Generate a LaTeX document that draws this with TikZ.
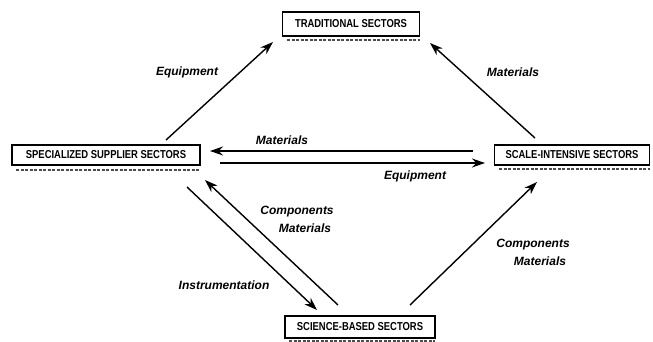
\documentclass[tikz,border=0pt]{standalone}
\usepackage{fontspec}
\setmainfont{Liberation Sans}
\usetikzlibrary{arrows.meta,calc}
\tikzset{
  sector/.style={draw=black, line width=1.8pt, fill=white, inner sep=0pt,
    font=\fontsize{11.5}{13}\selectfont\bfseries},
  flow/.style={line width=1.4pt, -{Stealth[length=13pt,width=9pt]}},
  lab/.style={font=\fontsize{12}{14}\selectfont\bfseries\itshape, inner sep=0pt},
  shade/.style={black!70, line width=2.5pt, dash pattern=on 3pt off 1.5pt}
}
\newcommand{\narrow}[1]{\scalebox{0.82}[1]{#1}}
\begin{document}
\begin{tikzpicture}[x=1pt,y=-1pt]
\useasboundingbox (0,0) rectangle (653,342);
% shadows
\draw[shade] (287,40) -- (420,40);
\draw[shade] (16,170) -- (200,170);
\draw[shade] (499,169) -- (650,169);
\draw[shade] (289,341) -- (435,341);
% boxes
\node[sector, minimum width=137pt, minimum height=24pt] (trad) at (351,24) {\narrow{TRADITIONAL SECTORS}};
\node[sector, minimum width=188pt, minimum height=20pt] (spec) at (106,155) {\narrow{SPECIALIZED SUPPLIER SECTORS}};
\node[sector, minimum width=155pt, minimum height=20pt] (scale) at (572,155) {\narrow{SCALE-INTENSIVE SECTORS}};
\node[sector, minimum width=150pt, minimum height=22pt] (sci) at (360,327) {\narrow{SCIENCE-BASED SECTORS}};
% connector end points
\coordinate (e1s) at (166,140); \coordinate (e1t) at (273,42);
\coordinate (m1s) at (535,138); \coordinate (m1t) at (430,43);
\coordinate (m2s) at (473,151); \coordinate (m2t) at (210,151);
\coordinate (e2s) at (220,163); \coordinate (e2t) at (485,163);
\coordinate (i1s) at (187,187); \coordinate (i1t) at (317,310);
\coordinate (c1s) at (338,305); \coordinate (c1t) at (205,180);
\coordinate (c2s) at (410,305); \coordinate (c2t) at (537,182);
% connectors
\draw[flow] (e1s) -- (e1t);
\draw[flow] (m1s) -- (m1t);
\draw[flow] (m2s) -- (m2t);
\draw[flow] (e2s) -- (e2t);
\draw[flow] (i1s) -- (i1t);
\draw[flow] (c1s) -- (c1t);
\draw[flow] (c2s) -- (c2t);
% labels
\node[lab] (l1) at (187,72) {Equipment};
\node[lab] (l2) at (513,72) {Materials};
\node[lab] (l3) at (282,140) {Materials};
\node[lab] (l4) at (415,176) {Equipment};
\node[lab] (l5) at (224,285) {Instrumentation};
\node[lab] (l6) at (297,212) {Components};
\node[lab] (l7) at (305,228) {Materials};
\node[lab] (l8) at (533,245) {Components};
\node[lab] (l9) at (540,261) {Materials};
\end{tikzpicture}
\end{document}
